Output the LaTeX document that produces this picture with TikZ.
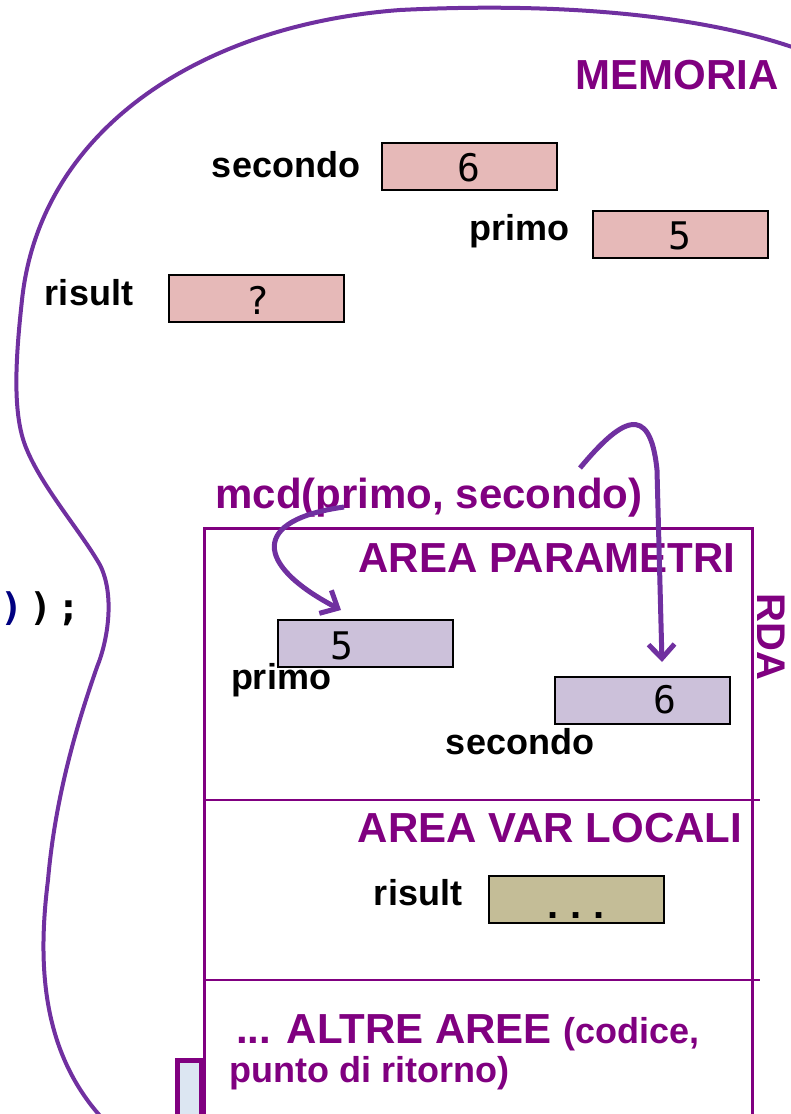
\documentclass[tikz,border=0pt]{standalone}
\usepackage{fontspec}
\setmainfont{Liberation Sans}
\newfontfamily\monof{DejaVu Sans Mono}
\usetikzlibrary{arrows.meta}
\definecolor{blobc}{HTML}{7030A0}
\definecolor{txtp}{HTML}{800080}
\definecolor{pinkf}{HTML}{E6B9B8}
\definecolor{lavf}{HTML}{CCC1DA}
\definecolor{tanf}{HTML}{C4BD97}
\definecolor{bluef}{HTML}{DCE6F2}
\definecolor{navyc}{HTML}{000080}
\tikzset{
  big/.style={font=\fontsize{42}{48}\selectfont\bfseries, text=txtp, inner sep=0pt},
  lbl/.style={font=\fontsize{36}{40}\selectfont\bfseries, text=black, inner sep=0pt},
  val/.style={font=\monof\fontsize{38}{40}\selectfont, inner sep=0pt},
  cell/.style={draw=black, line width=2pt, minimum width=175pt, minimum height=47pt, inner sep=0pt},
  blob/.style={draw=blobc, line width=4pt},
  arr/.style={draw=blobc, line width=5pt, -{Straight Barb[length=14pt,width=26pt,line width=5pt]}},
  rda/.style={draw=txtp, line width=3pt},
  div/.style={draw=txtp, line width=2pt}
}
\begin{document}
\begin{tikzpicture}[x=1pt,y=-1pt]
\useasboundingbox (0,0) rectangle (790,1114);
% memory blob
\draw[blob] (795,48) .. controls (700,15) and (560,2) .. (400,10)
  .. controls (200,25) and (40,130) .. (22,300)
  .. controls (16,355) and (12,410) .. (25,445)
  .. controls (40,485) and (80,530) .. (100,565)
  .. controls (115,595) and (108,640) .. (97,667)
  .. controls (75,730) and (55,800) .. (48,880)
  .. controls (38,960) and (40,1050) .. (102,1118);
\node[big] (mem) at (677,75) {MEMORIA};
% top variables
\node[cell, fill=pinkf] (bsec) at (469.5,166.5) {};
\node[val] (vsec) at (469,168) {6};
\node[lbl, anchor=base] (lsec) at (286,177) {secondo};
\node[cell, fill=pinkf] (bpri) at (680,234) {};
\node[val] (vpri) at (680,236) {5};
\node[lbl, anchor=base] (lpri) at (519,240) {primo};
\node[cell, fill=pinkf] (bris) at (256.5,298.5) {};
\node[val] (vris) at (258,300) {?};
\node[lbl, anchor=base] (lris) at (89,305) {risult};
% code fragment
\node[font=\monof\fontsize{38}{40}\selectfont\bfseries, inner sep=0pt, anchor=base west] (code) at (0,620) {\textcolor{navyc}{)}\hspace{6pt})\hspace{6pt};};
% RDA frame
\draw[rda] (204,1114) -- (204,528) -- (752,528) -- (752,1114);
\coordinate (d1l) at (204,800);
\coordinate (d1r) at (760,800);
\coordinate (d2l) at (204,980);
\coordinate (d2r) at (760,980);
\draw[div] (d1l) -- (d1r);
\draw[div] (d2l) -- (d2r);
\node[big, rotate=-90, font=\fontsize{40}{44}\selectfont\bfseries] (rdal) at (771,637) {RDA};
\node[big] (apar) at (547,558) {AREA PARAMETRI};
\node[big] (aloc) at (550,828) {AREA VAR LOCALI};
\node[big, anchor=base west] (altre) at (236,1043) {... ALTRE AREE {\fontsize{36}{40}\selectfont(codice,}};
\node[big, anchor=base west, font=\fontsize{36}{40}\selectfont\bfseries] (punto) at (229,1082) {punto di ritorno)};
\node[big] (call) at (429,498) {mcd(primo, secondo)};
% parameter cells
\node[cell, fill=lavf] (bp2) at (365.5,643.5) {};
\node[val] (vp2) at (342,646) {5};
\node[lbl] (lp2) at (281,680) {primo};
\node[cell, fill=lavf] (bs2) at (642.5,700) {};
\node[val] (vs2) at (665,700) {6};
\node[lbl] (ls2) at (520,742) {secondo};
% local
\node[cell, fill=tanf] (br2) at (576.5,899.5) {};
\node[font=\fontsize{40}{40}\selectfont\bfseries, inner sep=0pt, anchor=base] (vr2) at (576,918) {.\hspace{12pt}.\hspace{12pt}.};
\node[lbl] (lr2) at (418,893) {risult};
% small box
\node[draw=txtp, line width=5pt, fill=bluef, minimum width=24pt, minimum height=60pt, inner sep=0pt] (sbox) at (189.5,1090) {};
% arrows
\coordinate (a1s) at (344,507);
\coordinate (a1e) at (341,610);
\draw[arr] (a1s) .. controls (250,520) and (255,565) .. (a1e);
\coordinate (a2s) at (580,468);
\coordinate (a2e) at (662,662);
\draw[arr] (a2s) .. controls (620,420) and (650,400) .. (657,470) -- (a2e);
\end{tikzpicture}
\end{document}
